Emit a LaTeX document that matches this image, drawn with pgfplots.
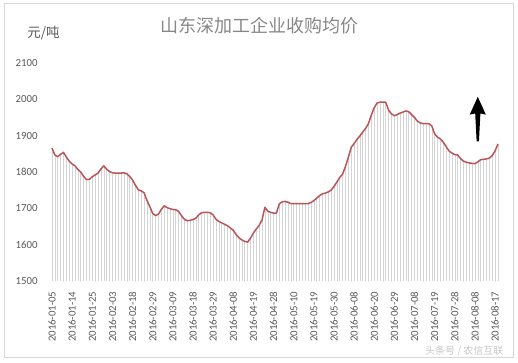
\documentclass[border=0pt]{standalone}
\usepackage{pgfplots}
\pgfplotsset{compat=1.18}
\usepackage{pgfplotstable}
\usepackage{fontspec}
\setmainfont{Carlito}
\newfontfamily\cjk{Noto Sans CJK SC}
\definecolor{linered}{RGB}{185,85,88}
\definecolor{bargray}{RGB}{212,212,212}
\definecolor{txtgray}{RGB}{89,89,89}
\definecolor{titlegray}{RGB}{135,135,135}
\definecolor{framegray}{RGB}{215,215,215}

\pgfplotstableread{
x y
0 1866
1 1847
2 1842
3 1849
4 1854
5 1841
6 1830
7 1822
8 1817
9 1807
10 1800
11 1788
12 1779
13 1780
14 1787
15 1792
16 1797
17 1808
18 1817
19 1808
20 1801
21 1798
22 1797
23 1797
24 1797
25 1798
26 1795
27 1788
28 1778
29 1764
30 1751
31 1748
32 1743
33 1722
34 1705
35 1686
36 1680
37 1684
38 1697
39 1707
40 1702
41 1699
42 1697
43 1696
44 1692
45 1680
46 1670
47 1666
48 1667
49 1669
50 1673
51 1682
52 1688
53 1689
54 1689
55 1688
56 1682
57 1670
58 1664
59 1660
60 1656
61 1652
62 1646
63 1640
64 1628
65 1619
66 1613
67 1609
68 1607
69 1618
70 1632
71 1643
72 1653
73 1668
74 1703
75 1692
76 1689
77 1687
78 1687
79 1712
80 1718
81 1719
82 1717
83 1713
84 1713
85 1713
86 1713
87 1713
88 1713
89 1713
90 1716
91 1721
92 1728
93 1735
94 1740
95 1742
96 1745
97 1750
98 1760
99 1772
100 1785
101 1794
102 1815
103 1840
104 1868
105 1878
106 1890
107 1899
108 1910
109 1920
110 1933
111 1957
112 1977
113 1990
114 1992
115 1992
116 1992
117 1970
118 1960
119 1955
120 1958
121 1962
122 1965
123 1968
124 1966
125 1958
126 1950
127 1940
128 1935
129 1933
130 1933
131 1933
132 1927
133 1905
134 1896
135 1891
136 1882
137 1870
138 1858
139 1852
140 1848
141 1847
142 1837
143 1830
144 1827
145 1825
146 1824
147 1823
148 1828
149 1834
150 1835
151 1836
152 1838
153 1845
154 1858
155 1877
}\prices

\begin{document}
\begin{tikzpicture}
\path[use as bounding box] (0pt,0pt) rectangle (518pt,362pt);
\draw[framegray, line width=0.8pt] (4pt,5pt) rectangle (513pt,358.7pt);
\node[text=titlegray, font=\cjk\fontsize{18}{20}\selectfont] at (259.5pt,336pt) {山东深加工企业收购均价};
\node[text=txtgray, font=\cjk\fontsize{13.5}{15}\selectfont] at (43.5pt,329pt) {元/吨};
\node[text=black!22, font=\cjk\fontsize{10}{11}\selectfont, anchor=east] at (507pt,11pt) {头条号 / 农信互联};
\begin{axis}[
  at={(49.1pt,81pt)}, anchor=south west,
  scale only axis, width=451.7pt, height=218pt,
  xmin=-1, xmax=156, ymin=1500, ymax=2100,
  axis line style={draw=none},
  major tick length=0pt,
  ytick={1500,1600,...,2100},
  xtick={0,7,...,154},
  xticklabels={2016-01-05,2016-01-14,2016-01-25,2016-02-03,2016-02-18,2016-02-29,2016-03-09,2016-03-18,2016-03-29,2016-04-08,2016-04-19,2016-04-28,2016-05-10,2016-05-19,2016-05-30,2016-06-08,2016-06-20,2016-06-29,2016-07-08,2016-07-19,2016-07-28,2016-08-08,2016-08-17},
  xticklabel style={rotate=90, anchor=east, yshift=0pt, xshift=-7pt, font=\fontsize{10.8}{12}\selectfont, text=txtgray},
  yticklabel style={xshift=-8pt, font=\fontsize{10.8}{12}\selectfont, text=txtgray},
  /pgf/number format/assume math mode=true,
  /pgf/number format/1000 sep={},
  clip=true,
]
\addplot[ycomb, draw=bargray, line width=0.5pt, mark=none] table[x=x,y=y] {\prices};
\addplot[draw=linered, line width=1.5pt, mark=none, line join=round] table[x=x,y=y] {\prices};
\fill[black] (axis cs:148,2007) -- (axis cs:145.2,1958) -- (axis cs:147.1,1961) -- (axis cs:147.6,1884) -- (axis cs:148.4,1884) -- (axis cs:148.9,1961) -- (axis cs:150.8,1958) -- cycle;
\end{axis}
\end{tikzpicture}
\end{document}
